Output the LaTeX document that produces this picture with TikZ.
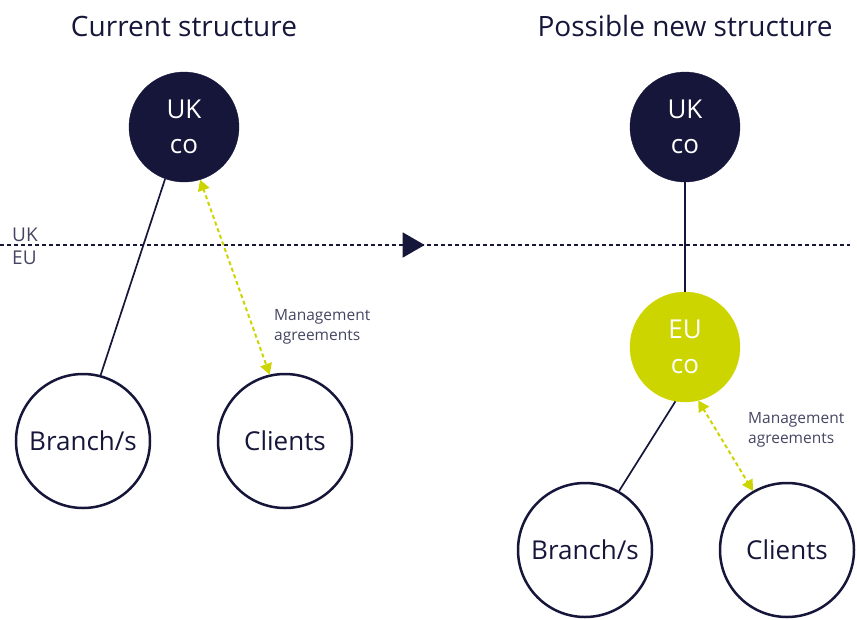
\documentclass[tikz,border=0pt]{standalone}
\usepackage{fontspec}
\setmainfont{Open Sans}
\usetikzlibrary{arrows,shapes}
\usetikzlibrary{calc}
\definecolor{navy}{HTML}{16163B}
\definecolor{lime}{HTML}{CDD500}
\tikzstyle{company}=[circle,fill=navy,draw=navy,minimum size=110pt,inner sep=0pt,text=white,font=\fontsize{26}{35}\selectfont,align=center]
\tikzstyle{party}=[circle,fill=white,draw=navy,line width=2.5pt,minimum size=134pt,inner sep=0pt,text=navy,font=\fontsize{26}{30}\selectfont]
\tikzstyle{owns} = [draw,navy,line width=1.7pt]
\tikzstyle{mgmt} = [draw,lime,line width=2pt,dash pattern=on 4pt off 3pt,triangle 60-triangle 60]
\tikzstyle{note} = [font=\fontsize{15.5}{20}\selectfont,text=navy!80,align=left,anchor=north west,inner sep=0pt]
\tikzstyle{title} = [font=\fontsize{28}{32}\selectfont,text=navy]

\begin{document}
\begin{tikzpicture}[x=1pt,y=-1pt]
    \useasboundingbox (0,0) rectangle (857,619);
    % Titles
    \node[title] (titleL) at (184,26) {Current structure};
    \node[title] (titleR) at (685,26) {Possible new structure};
    % UK / EU border
    \coordinate (borderW) at (0,245);
    \coordinate (borderE) at (850,245);
    \draw[navy,line width=1.5pt,dash pattern=on 4pt off 3pt] (borderW) -- (borderE);
    \node[anchor=south west,inner sep=0pt,text=navy!80,font=\fontsize{19}{22}\selectfont] (ukLbl) at (12,242) {UK};
    \node[anchor=north west,inner sep=0pt,text=navy!80,font=\fontsize{19}{22}\selectfont] (euLbl) at (12,251) {EU};
    \node[isosceles triangle,isosceles triangle apex angle=60,fill=navy,inner sep=0pt,minimum height=22pt,minimum width=25pt] (move) at (410,245) {};
    % Companies and parties
    \foreach \pos/\name/\txt in {{(184,127)/ukL/UK\\co}, {(685,127)/ukR/UK\\co}}
        \node[company] (\name) at \pos {\txt};
    \node[company,fill=lime,draw=lime] (euco) at (685,347) {EU\\co};
    \foreach \pos/\name/\txt in {{(83,441)/branchL/{Branch/s}}, {(285,441)/clientsL/Clients},
                                 {(585,550)/branchR/{Branch/s}}, {(787,550)/clientsR/Clients}}
        \node[party] (\name) at \pos {\txt};
    % Ownership lines
    \path[owns] (ukL.250) -- (branchL.75);
    \path[owns] (ukR) -- (euco);
    \path[owns] (euco.260) -- (branchR.60);
    % Management agreements
    \path[mgmt] (ukL.287) -- (clientsL.103);
    \path[mgmt] (euco.284) -- (clientsR.120);
    \node[note] (noteL) at (274,309) {Management\\agreements};
    \node[note] (noteR) at (748,412) {Management\\agreements};
\end{tikzpicture}
\end{document}
